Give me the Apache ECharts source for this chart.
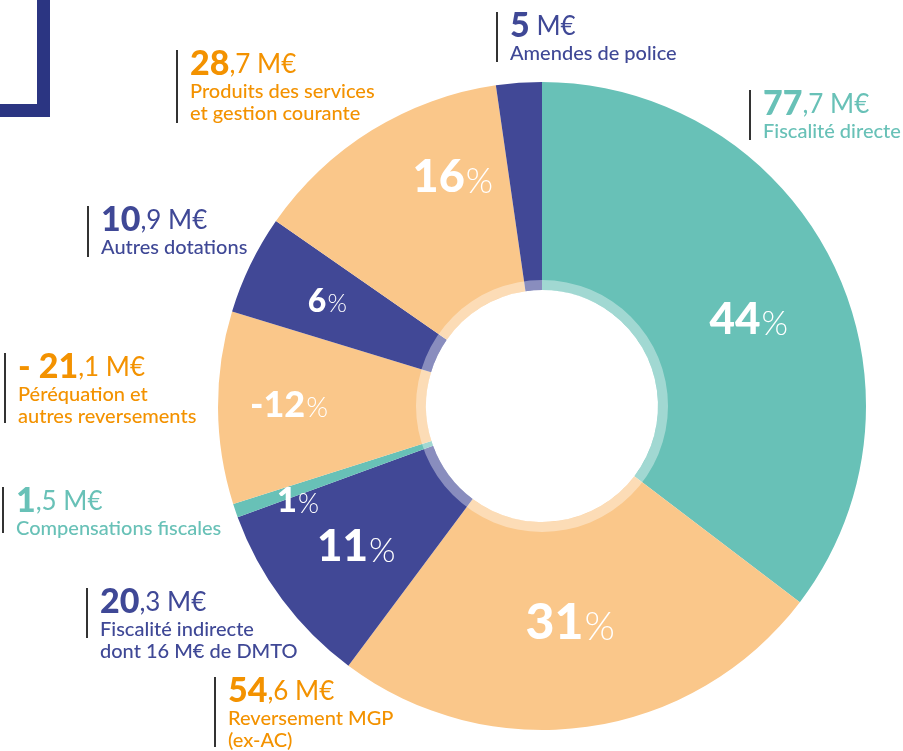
<!DOCTYPE html>
<html lang="fr">
<head>
<meta charset="utf-8">
<title>Recettes de fonctionnement</title>
<script src="https://cdn.jsdelivr.net/npm/echarts@6/dist/echarts.min.js"></script>
<style>
    html, body { margin: 0; padding: 0; background: #fff; }
    #graphique { width: 903px; height: 751px; }
</style>
</head>
<body>
<div id="graphique"></div>
<script>
// donnees en M€, dans l'ordre du camembert en partant de midi
var libelles = [
    'Fiscalité directe',
    'Reversement MGP\n(ex-AC)',
    'Fiscalité indirecte\ndont 16 M€ de DMTO',
    'Compensations fiscales',
    'Péréquation et\nautres reversements',
    'Autres dotations',
    'Produits des services\net gestion courante',
    'Amendes de police'
];
var montants = [77.7, 54.6, 20.3, 1.5, -21.1, 10.9, 28.7, 5];
var teintes = ['vert', 'orange', 'bleu', 'vert', 'orange', 'bleu', 'orange', 'bleu'];
var afficherPct = [true, true, true, true, true, true, true, false];

var couleurs = {
    vert: { part: '#68C1B7', texte: '#68C1B7' },
    orange: { part: '#FAC78A', texte: '#F39200' },
    bleu: { part: '#414896', texte: '#3F4896' }
};

// mise en page
var police = 'Lato, "Open Sans", sans-serif';
var centre = [542, 406];
var rayons = [116, 324];
// trait des etiquettes : x, haut, longueur
var etiquettesPos = [
    [750, 90, 50], [215, 677, 70], [87, 588, 50], [3, 487, 46],
    [5, 353, 70], [88, 206, 51], [177, 50, 73], [497, 12, 50]
];
var pctTaille = [44, 50, 44, 35, 36, 32, 45, 0];
var pctDecalage = [[7, 13], [-3, -4], [-7, 8], [-33, 23], [-30, -2], [-14, -7], [28, -39], [0, 0]];

var total = montants.reduce(function(a, b) { return a + b; }, 0);

function texteMontant(v) {
    var abs = Math.abs(v);
    var ent = Math.floor(abs);
    var dec = Math.round((abs - ent) * 10);
    var gras = (v < 0 ? '- ' : '') + ent;
    var reste = (dec ? ',' + dec : '') + ' M€';
    return '{b|' + gras + '}{r|' + reste + '}';
}

var donnees = montants.map(function(v, i) {
    var t = pctTaille[i];
    return {
        name: libelles[i],
        value: Math.abs(v),
        itemStyle: { color: couleurs[teintes[i]].part },
        label: {
            show: afficherPct[i],
            rich: {
                n: { fontFamily: police, fontWeight: 900, fontSize: t, color: '#fff', verticalAlign: 'bottom' },
                p: { fontFamily: police, fontWeight: 300, fontSize: Math.round(t * 0.78), color: '#fff', verticalAlign: 'bottom', padding: [0, 0, 1, 1] }
            }
        }
    };
});

var graphiques = [
    { type: 'rect', shape: { x: 37, y: 0, width: 13, height: 117 }, style: { fill: '#2B3582' } },
    { type: 'rect', shape: { x: 0, y: 104, width: 50, height: 13 }, style: { fill: '#2B3582' } }
];

montants.forEach(function(v, i) {
    var pos = etiquettesPos[i];
    var coul = couleurs[teintes[i]].texte;
    graphiques.push({
        type: 'group',
        x: pos[0],
        y: pos[1],
        children: [
            { type: 'rect', shape: { x: -1, y: 0, width: 2, height: pos[2] }, style: { fill: '#333' } },
            {
                type: 'text', x: 13, y: -3,
                style: {
                    text: texteMontant(v),
                    verticalAlign: 'top',
                    rich: {
                        b: { fill: coul, fontFamily: police, fontWeight: 900, fontSize: 34, verticalAlign: 'bottom' },
                        r: { fill: coul, fontFamily: police, fontWeight: 'normal', fontSize: 26, verticalAlign: 'bottom', padding: [0, 0, 3, 0] }
                    }
                }
            },
            {
                type: 'text', x: 13, y: 31,
                style: {
                    text: libelles[i],
                    fill: coul,
                    fontFamily: police,
                    fontWeight: 500,
                    fontSize: 20,
                    lineHeight: 22,
                    verticalAlign: 'top'
                }
            }
        ]
    });
});

var graphique = echarts.init(document.getElementById('graphique'));

graphique.setOption({
    animation: false,
    graphic: graphiques,
    series: [{
        type: 'pie',
        center: centre,
        radius: rayons,
        startAngle: 90,
        clockwise: true,
        avoidLabelOverlap: false,
        emphasis: { disabled: true },
        itemStyle: { borderWidth: 0 },
        label: {
            position: 'inside',
            formatter: function(p) {
                var pct = Math.round(montants[p.dataIndex] / total * 100);
                return '{n|' + pct + '}{p|%}';
            }
        },
        labelLine: { show: false },
        labelLayout: function(p) {
            var d = pctDecalage[p.dataIndex];
            return { dx: d[0], dy: d[1] };
        },
        data: donnees
    }, {
        // anneau clair autour du trou
        type: 'pie',
        center: centre,
        radius: [rayons[0], rayons[0] + 10],
        silent: true,
        label: { show: false },
        labelLine: { show: false },
        itemStyle: { color: '#fff', opacity: 0.38 },
        data: [1]
    }]
});
</script>
</body>
</html>
